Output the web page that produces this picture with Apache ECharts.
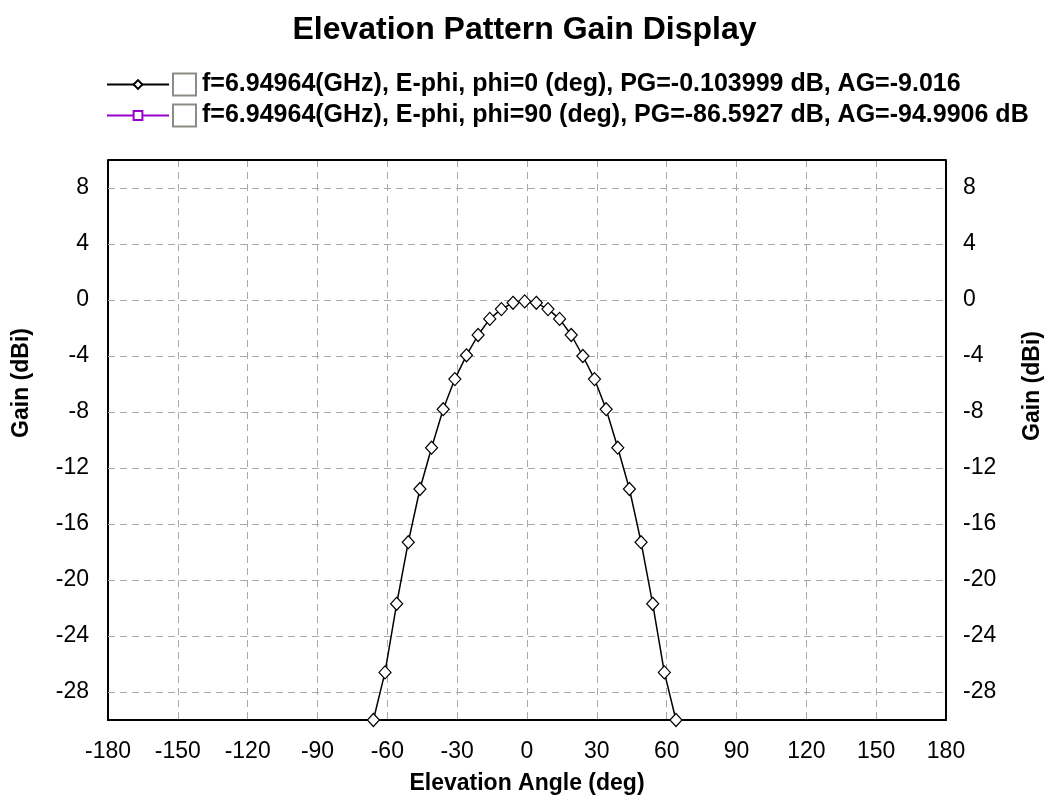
<!DOCTYPE html>
<html>
<head>
<meta charset="utf-8">
<script src="https://cdn.jsdelivr.net/npm/echarts@6/dist/echarts.min.js"></script>
<style>
html,body{margin:0;padding:0;background:#fff;}
#chart{width:1049px;height:799px;}
</style>
</head>
<body>
<div id="chart"></div>
<script>
// ---- data ----
const titleText = 'Elevation Pattern Gain Display';
const seriesNames = [
  'f=6.94964(GHz), E-phi, phi=0 (deg), PG=-0.103999 dB, AG=-9.016',
  'f=6.94964(GHz), E-phi, phi=90 (deg), PG=-86.5927 dB, AG=-94.9906 dB'
];
const elevationAngles = [-66,-61,-56,-51,-46,-41,-36,-31,-26,-21,-16,-11,-6,-1,4,9,14,19,24,29,34,39,44,49,54,59,64];
const gainPhi0 = [-30,-26.6,-21.7,-17.3,-13.5,-10.55,-7.8,-5.65,-3.95,-2.5,-1.35,-0.65,-0.2,-0.1,-0.2,-0.65,-1.35,-2.5,-4.0,-5.65,-7.8,-10.55,-13.5,-17.3,-21.7,-26.6,-30];
// phi=90 cut lies entirely below the displayed range (PG=-86.6 dB): nothing visible
const anglesPhi90 = [];
const gainPhi90 = [];
const xTicks = [-180,-150,-120,-90,-60,-30,0,30,60,90,120,150,180];
const yTicks = [-28,-24,-20,-16,-12,-8,-4,0,4,8];
const yRange = [-30, 10];
const xAxisTitle = 'Elevation Angle (deg)';
const yAxisTitle = 'Gain (dBi)';

const pairs = (xs, ys) => xs.map((x, i) => [x, ys[i]]);

const labelFont = "'Liberation Sans',Arial,sans-serif";
const boldFont = "'Liberation Sans',Arial,sans-serif";

const gridStyle = {color:'#a8a8a8', width:1, type:[7,5]};
const yLabelFormatter = v => (yTicks.indexOf(v) >= 0 ? String(v) : '');

const GL = 108, GR = 946, GT = 160, GB = 720;

const chart = echarts.init(document.getElementById('chart'), null, {renderer:'canvas'});
chart.setOption({
  animation:false,
  backgroundColor:'#ffffff',
  title:{
    text:titleText, left:'center', top:9,
    textStyle:{fontSize:32, fontWeight:'bold', color:'#000', fontFamily:boldFont}
  },
  legend:{
    orient:'vertical', left:106, top:72, itemWidth:62, itemHeight:11, itemGap:6,
    data:seriesNames,
    formatter:function(name){ return '{box|}{t|' + name + '}'; },
    textStyle:{
      rich:{
        box:{width:21, height:20, borderColor:'#8c8c84', borderWidth:2, backgroundColor:'#fff'},
        t:{fontSize:25, fontWeight:'bold', color:'#000', fontFamily:boldFont, padding:[0,0,0,7], lineHeight:24}
      }
    },
    padding:0
  },
  grid:{left:GL, right:1049-GR, top:GT, bottom:799-GB, containLabel:false, outerBoundsMode:'none'},
  xAxis:{
    type:'value', min:xTicks[0], max:xTicks[xTicks.length-1], interval:30,
    name:xAxisTitle, nameLocation:'middle', nameGap:52,
    nameTextStyle:{fontSize:23, fontWeight:'bold', color:'#000', fontFamily:boldFont},
    axisLine:{show:true, onZero:false, lineStyle:{color:'#000', width:2}},
    axisTick:{show:false},
    axisLabel:{fontSize:23, color:'#000', fontFamily:labelFont, margin:20},
    splitLine:{show:true, lineStyle:gridStyle}
  },
  yAxis:[{
    type:'value', min:yRange[0], max:yRange[1], interval:2, position:'left',
    axisLine:{show:true, onZero:false, lineStyle:{color:'#000', width:2}},
    axisTick:{show:false},
    axisLabel:{fontSize:23, color:'#000', fontFamily:labelFont, margin:19, formatter:yLabelFormatter},
    splitLine:{show:false}
  },{
    type:'value', min:yRange[0], max:yRange[1], interval:2, position:'right',
    axisLine:{show:true, onZero:false, lineStyle:{color:'#000', width:2}},
    axisTick:{show:false},
    axisLabel:{fontSize:23, color:'#000', fontFamily:labelFont, margin:17, formatter:yLabelFormatter},
    splitLine:{show:false}
  }],
  graphic:[{
    type:'line', silent:true, z:10,
    shape:{x1:GL, y1:GT, x2:GR, y2:GT},
    style:{stroke:'#000', lineWidth:2}
  },{
    type:'text', silent:true, x:22, y:383, rotation:Math.PI/2,
    style:{text:yAxisTitle, align:'center', verticalAlign:'middle', fill:'#000',
      font:"bold 23px 'Liberation Sans',Arial,sans-serif"}
  },{
    type:'text', silent:true, x:1033, y:386, rotation:Math.PI/2,
    style:{text:yAxisTitle, align:'center', verticalAlign:'middle', fill:'#000',
      font:"bold 23px 'Liberation Sans',Arial,sans-serif"}
  }],
  series:[{
    name:seriesNames[0], type:'line', xAxisIndex:0, yAxisIndex:0,
    data:pairs(elevationAngles, gainPhi0),
    color:'#000',
    lineStyle:{color:'#000', width:1.5},
    symbol:'diamond', symbolSize:[12,13], showAllSymbol:true,
    itemStyle:{color:'#fff', borderColor:'#000', borderWidth:1.2},
    clip:true, z:5,
    markLine:{
      silent:true, symbol:['none','none'], label:{show:false}, animation:false,
      lineStyle:gridStyle, z:1,
      data:yTicks.map(v => ({yAxis:v}))
    }
  },{
    name:seriesNames[1], type:'line', xAxisIndex:0, yAxisIndex:0,
    data:pairs(anglesPhi90, gainPhi90),
    color:'#9900cc',
    lineStyle:{color:'#9900cc', width:1.5},
    symbol:'rect', symbolSize:9,
    itemStyle:{color:'#fff', borderColor:'#9900cc', borderWidth:1.5},
    clip:true
  }]
});
</script>
</body>
</html>
